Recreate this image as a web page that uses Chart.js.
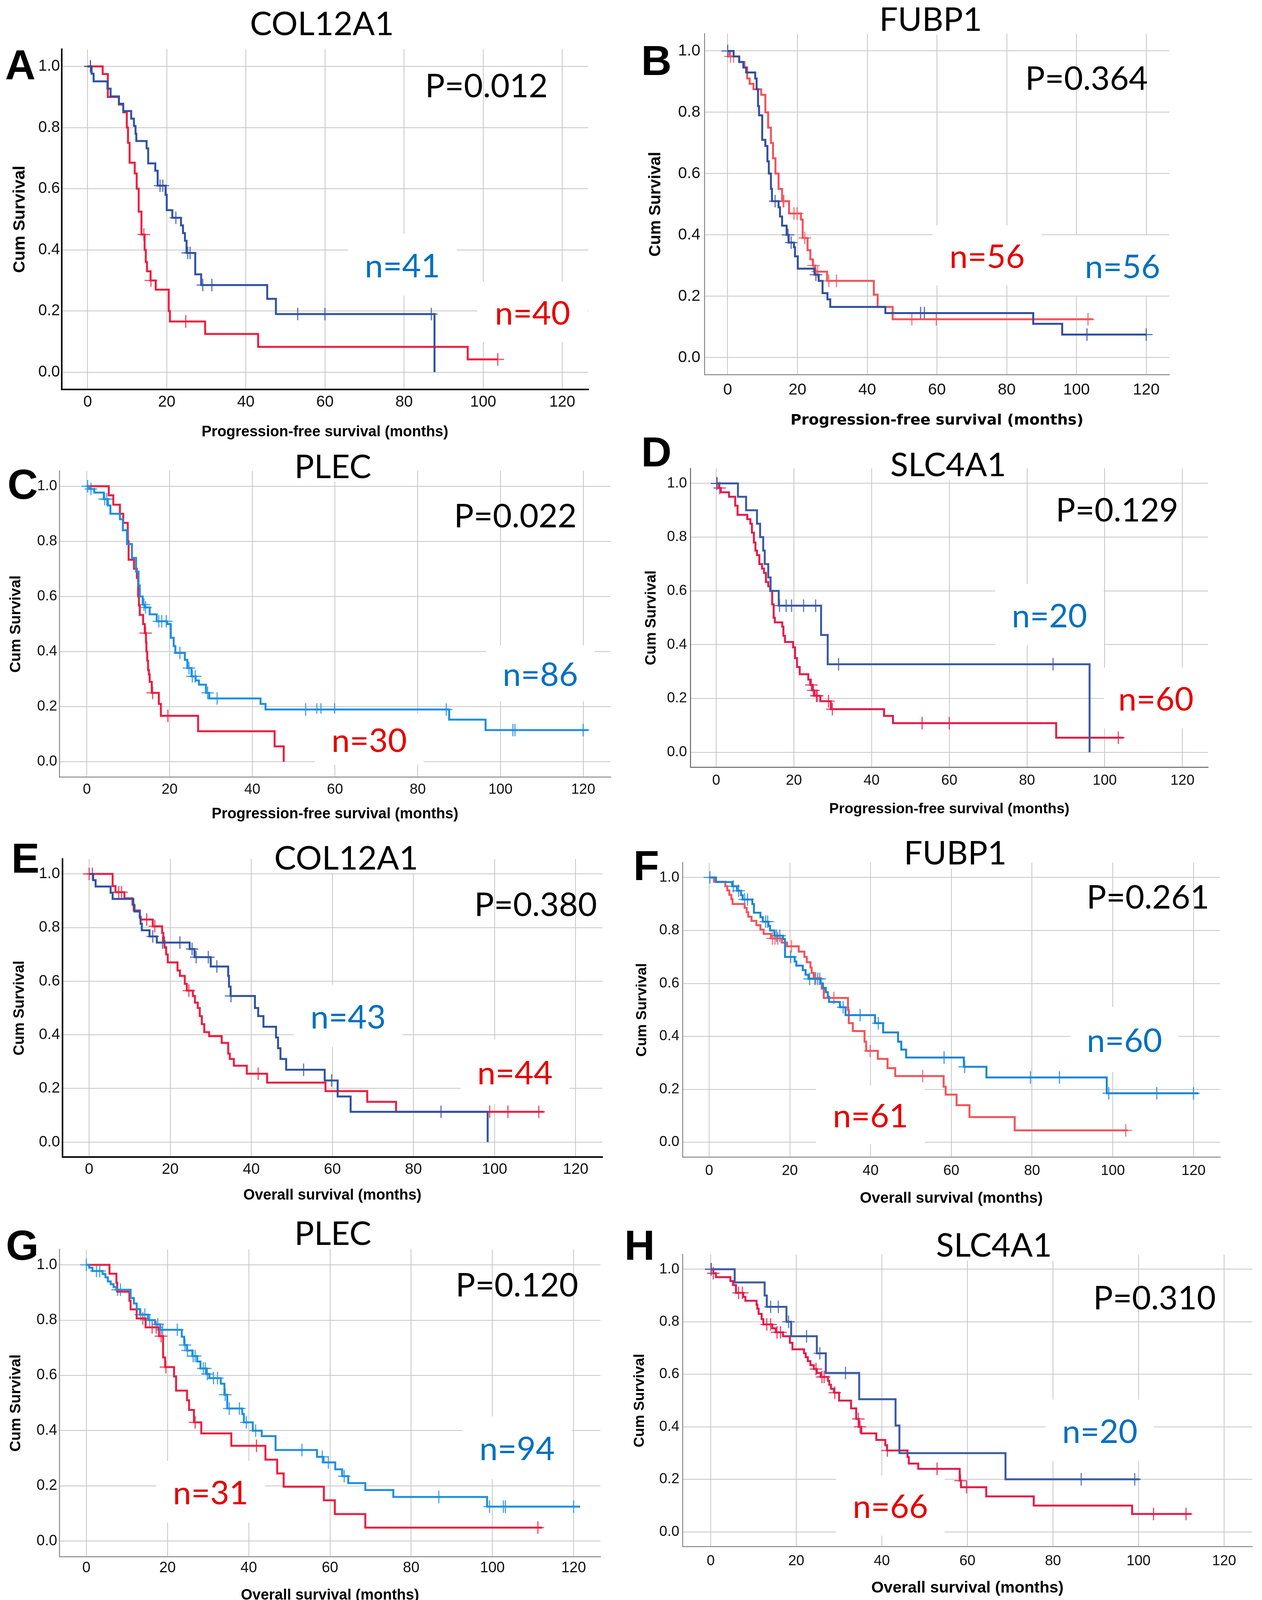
<!DOCTYPE html>
<html>
<head>
<meta charset="utf-8">
<script src="https://cdn.jsdelivr.net/npm/chart.js@4.4.0/dist/chart.umd.min.js"></script>
<style>
  html, body { margin: 0; padding: 0; background: #fff; }
  body { width: 3230px; height: 4130px; position: relative; overflow: hidden; }
  canvas { position: absolute; }
  .txt { position: absolute; white-space: nowrap; line-height: 1; color: #000; }
  .gene { font-family: Lato, 'Open Sans', sans-serif; font-size: 84px; background: #fff; padding: 0 8px;
          transform: translate(-50%, calc(-50% - 2px)); }
  .pval { font-family: Lato, 'Open Sans', sans-serif; font-size: 84px; transform: translate(-50%, calc(-50% - 2px)); }
  .letter { font-family: 'Liberation Sans', Arial, sans-serif; font-weight: bold; font-size: 108px; transform: translate(0, -50%); }
  .nlab { position: absolute; background: #fff; display: flex; align-items: center; justify-content: center;
          font-family: Lato, 'Open Sans', sans-serif; font-size: 84px; line-height: 1; }
</style>
</head>
<body>
<script>
// ---- axis ticks ----
const xTicks = [0, 20, 40, 60, 80, 100, 120];
const yTicks = [0, 0.2, 0.4, 0.6, 0.8, 1.0];
const X_MIN = -6.6, X_MAX = 126.6, Y_MIN = -0.056, Y_MAX = 1.056;

// ---- A: COL12A1, PFS ----
const A_red_t = [0, 3.8, 5.1, 7.9, 9.0, 9.9, 10.2, 10.6, 11.9, 12.4, 12.9, 13.6, 14.4, 14.7, 15.0, 15.9, 17.2, 20.5, 20.8, 29.7, 43.1, 96.1, 103.7];
const A_red_s = [1.0, 0.975, 0.90, 0.875, 0.85, 0.80, 0.75, 0.685, 0.65, 0.60, 0.525, 0.45, 0.40, 0.36, 0.33, 0.30, 0.27, 0.20, 0.166, 0.125, 0.083, 0.042, 0.042];
const A_red_c = [0.7, 14.2, 16.0, 24.8, 103.7];
const A_blue_t = [0, 1.0, 1.5, 5.0, 5.8, 7.9, 9.0, 11.0, 11.7, 12.1, 12.3, 14.9, 15.3, 17.1, 17.7, 19.7, 20.0, 21.4, 23.6, 24.1, 24.6, 25.0, 27.2, 28.7, 45.4, 47.6, 87.7];
const A_blue_s = [1.0, 0.976, 0.951, 0.927, 0.902, 0.878, 0.854, 0.829, 0.805, 0.78, 0.756, 0.732, 0.683, 0.659, 0.61, 0.58, 0.53, 0.505, 0.48, 0.455, 0.43, 0.39, 0.32, 0.285, 0.24, 0.19, 0.0];
const A_blue_c = [0.7, 18.3, 19.0, 22.3, 25.3, 25.9, 29.1, 31.4, 53.1, 60.0, 86.9];

// ---- B: FUBP1, PFS ----
const B_red_t = [0, 0.5, 3.3, 4.8, 5.6, 6.3, 7.4, 9.6, 10.8, 11.6, 12.4, 13.0, 13.7, 14.6, 15.6, 17.6, 21.0, 21.5, 22.9, 23.7, 24.4, 25.1, 28.5, 41.9, 43.0, 47.3, 104.7];
const B_red_s = [1.0, 0.982, 0.964, 0.946, 0.91, 0.893, 0.875, 0.857, 0.80, 0.75, 0.70, 0.65, 0.60, 0.55, 0.51, 0.47, 0.45, 0.39, 0.35, 0.32, 0.30, 0.28, 0.25, 0.205, 0.165, 0.125, 0.125];
const B_red_c = [0.8, 1.7, 15.9, 16.1, 19.0, 19.9, 22.1, 24.6, 25.8, 29.0, 31.2, 52.8, 59.8, 103.3];
const B_blue_t = [0, 1.7, 3.3, 4.5, 5.3, 7.9, 8.3, 8.7, 9.0, 9.9, 10.8, 11.4, 11.8, 12.4, 12.7, 14.6, 15.0, 15.6, 16.9, 17.5, 19.0, 19.3, 20.1, 24.9, 26.1, 27.2, 28.6, 29.4, 45.2, 87.6, 95.9, 120.0];
const B_blue_s = [1.0, 0.982, 0.964, 0.946, 0.93, 0.91, 0.875, 0.82, 0.79, 0.71, 0.69, 0.64, 0.60, 0.55, 0.51, 0.49, 0.46, 0.43, 0.40, 0.375, 0.36, 0.33, 0.29, 0.27, 0.25, 0.21, 0.19, 0.165, 0.145, 0.11, 0.075, 0.075];
const B_blue_c = [0, 13.6, 17.3, 18.2, 25.3, 55.3, 56.4, 103.0, 120.0];

// ---- C: PLEC, PFS ----
const C_red_t = [0, 5.3, 6.4, 8.0, 8.8, 9.9, 10.1, 11.4, 12.1, 12.4, 12.6, 12.8, 13.6, 14.0, 14.3, 14.4, 14.6, 14.8, 15.0, 15.2, 15.7, 17.4, 17.9, 26.9, 45.4, 47.6];
const C_red_s = [1.0, 0.967, 0.933, 0.90, 0.867, 0.80, 0.733, 0.70, 0.667, 0.60, 0.567, 0.533, 0.50, 0.467, 0.433, 0.40, 0.367, 0.333, 0.317, 0.29, 0.25, 0.21, 0.167, 0.111, 0.056, 0.0];
const C_red_c = [14.2, 15.9, 19.6];
const C_blue_t = [0, 0.6, 1.8, 4.1, 5.1, 5.7, 8.0, 8.7, 9.7, 10.9, 11.9, 12.5, 12.8, 13.5, 14.0, 15.2, 16.9, 19.4, 20.3, 21.0, 21.4, 23.7, 24.3, 25.3, 26.3, 27.1, 28.8, 29.6, 42.0, 43.2, 87.6, 96.4, 121.2];
const C_blue_s = [1.0, 0.99, 0.977, 0.953, 0.93, 0.90, 0.88, 0.84, 0.79, 0.74, 0.69, 0.64, 0.60, 0.57, 0.56, 0.535, 0.51, 0.50, 0.45, 0.42, 0.395, 0.37, 0.34, 0.31, 0.295, 0.28, 0.25, 0.23, 0.21, 0.19, 0.153, 0.115, 0.115];
const C_blue_c = [0.2, 1.0, 4.3, 4.8, 13.8, 14.2, 17.4, 18.1, 19.2, 22.5, 24.7, 25.5, 26.2, 29.2, 31.5, 52.9, 55.6, 56.6, 59.9, 86.9, 103.0, 103.5, 120.0];

// ---- D: SLC4A1, PFS ----
const D_red_t = [0, 0.7, 1.2, 3.3, 4.9, 5.5, 8.0, 8.8, 9.2, 9.7, 10.1, 10.5, 11.1, 11.8, 12.3, 12.8, 13.4, 13.9, 14.4, 14.8, 15.1, 17.0, 17.3, 17.7, 19.8, 20.3, 20.8, 21.5, 23.7, 24.2, 24.8, 25.3, 26.8, 29.5, 43.2, 45.5, 87.5, 104.8];
const D_red_s = [1.0, 0.983, 0.967, 0.95, 0.917, 0.883, 0.867, 0.85, 0.817, 0.78, 0.75, 0.733, 0.70, 0.683, 0.667, 0.633, 0.617, 0.60, 0.55, 0.50, 0.483, 0.467, 0.433, 0.41, 0.39, 0.35, 0.317, 0.29, 0.27, 0.25, 0.23, 0.21, 0.19, 0.16, 0.135, 0.108, 0.054, 0.054];
const D_red_c = [0.2, 0.9, 24.5, 25.0, 25.8, 26.0, 28.9, 29.9, 53.0, 60.0, 103.5];
const D_blue_t = [0, 5.6, 7.7, 10.5, 11.3, 12.1, 12.5, 13.4, 14.0, 16.1, 27.0, 28.7, 96.1];
const D_blue_s = [1.0, 0.95, 0.90, 0.85, 0.80, 0.75, 0.70, 0.65, 0.60, 0.545, 0.436, 0.327, 0.0];
const D_blue_c = [0.2, 16.3, 18.0, 19.4, 22.5, 25.6, 31.5, 86.7];

// ---- E: COL12A1, OS ----
const E_red_t = [0, 5.8, 6.5, 8.7, 10.7, 11.0, 12.5, 12.7, 15.7, 18.0, 18.3, 18.6, 19.0, 19.4, 21.8, 22.4, 23.6, 24.1, 25.6, 26.1, 26.8, 27.3, 27.8, 28.4, 29.6, 32.7, 34.3, 34.7, 35.7, 38.9, 43.9, 58.3, 68.6, 75.7, 112.1];
const E_red_s = [1.0, 0.955, 0.932, 0.909, 0.886, 0.864, 0.841, 0.83, 0.805, 0.78, 0.75, 0.727, 0.70, 0.67, 0.64, 0.62, 0.59, 0.565, 0.545, 0.52, 0.50, 0.47, 0.44, 0.41, 0.395, 0.37, 0.33, 0.31, 0.285, 0.255, 0.222, 0.19, 0.15, 0.113, 0.113];
const E_red_c = [0, 0.8, 7.3, 8.0, 14.2, 16.2, 24.6, 41.7, 98.8, 103.3, 110.9];
const E_blue_t = [0, 1.0, 1.6, 5.3, 5.8, 10.9, 11.2, 12.5, 12.7, 13.0, 14.9, 16.7, 24.8, 26.0, 30.0, 34.3, 34.5, 34.9, 40.9, 41.7, 43.0, 46.1, 46.6, 47.2, 48.6, 58.1, 61.3, 64.5, 98.3];
const E_blue_s = [1.0, 0.977, 0.953, 0.93, 0.907, 0.884, 0.86, 0.837, 0.814, 0.79, 0.767, 0.744, 0.72, 0.69, 0.655, 0.62, 0.58, 0.545, 0.50, 0.47, 0.43, 0.39, 0.35, 0.31, 0.27, 0.23, 0.17, 0.113, 0.0];
const E_blue_c = [15.7, 18.1, 18.6, 22.4, 25.4, 26.4, 29.4, 31.5, 35.0, 52.9, 59.8, 86.8];

// ---- F: FUBP1, OS ----
const F_red_t = [0, 1.2, 4.0, 4.5, 5.0, 5.5, 5.8, 8.8, 9.3, 9.7, 10.5, 11.7, 12.7, 13.5, 15.3, 18.0, 19.3, 22.2, 23.6, 24.2, 25.1, 25.4, 25.9, 27.6, 27.9, 28.4, 34.4, 34.6, 35.6, 38.5, 38.9, 41.8, 44.2, 46.1, 58.1, 58.6, 61.3, 64.5, 75.7, 103.7];
const F_red_s = [1.0, 0.984, 0.967, 0.951, 0.934, 0.918, 0.90, 0.885, 0.869, 0.852, 0.836, 0.82, 0.803, 0.787, 0.77, 0.754, 0.74, 0.72, 0.70, 0.68, 0.66, 0.64, 0.62, 0.60, 0.58, 0.545, 0.50, 0.45, 0.42, 0.38, 0.345, 0.315, 0.28, 0.25, 0.21, 0.18, 0.14, 0.095, 0.045, 0.045];
const F_red_c = [15.7, 16.3, 17.0, 20.4, 26.4, 30.9, 39.9, 52.9, 103.2];
const F_blue_t = [0, 1.7, 5.7, 6.9, 7.9, 8.3, 10.7, 11.1, 12.7, 13.3, 14.7, 15.1, 16.2, 18.3, 18.8, 21.2, 21.6, 23.2, 23.9, 24.6, 27.6, 28.2, 28.9, 29.4, 29.7, 32.4, 33.8, 41.1, 43.1, 46.8, 47.6, 48.8, 63.1, 68.7, 98.5, 121.2];
const F_blue_s = [1.0, 0.983, 0.967, 0.95, 0.933, 0.917, 0.90, 0.867, 0.85, 0.833, 0.817, 0.80, 0.78, 0.767, 0.70, 0.683, 0.667, 0.65, 0.633, 0.617, 0.60, 0.583, 0.567, 0.55, 0.53, 0.51, 0.48, 0.45, 0.415, 0.38, 0.35, 0.32, 0.285, 0.245, 0.185, 0.185];
const F_blue_c = [0.2, 6.0, 7.3, 8.8, 9.5, 14.0, 14.5, 16.7, 17.5, 20.2, 24.9, 26.2, 26.9, 27.4, 33.2, 37.4, 41.9, 58.2, 63.3, 79.6, 86.8, 99.0, 110.9, 120.0];

// ---- G: PLEC, OS ----
const G_red_t = [0, 5.7, 7.4, 7.6, 10.6, 10.9, 12.4, 14.6, 17.9, 18.9, 19.4, 21.6, 22.1, 24.8, 25.3, 26.5, 28.3, 35.7, 44.1, 47.0, 48.6, 58.5, 61.2, 68.7, 112.2];
const G_red_s = [1.0, 0.968, 0.935, 0.903, 0.87, 0.839, 0.806, 0.774, 0.742, 0.665, 0.63, 0.596, 0.545, 0.51, 0.475, 0.43, 0.39, 0.345, 0.295, 0.245, 0.197, 0.148, 0.098, 0.049, 0.049];
const G_red_c = [13.9, 16.2, 17.2, 18.4, 19.6, 26.8, 41.9, 111.2];
const G_blue_t = [0, 0.7, 1.5, 4.0, 4.7, 5.3, 6.0, 6.7, 7.4, 10.9, 11.7, 12.4, 13.2, 15.2, 16.9, 18.2, 23.5, 24.1, 24.8, 26.1, 27.3, 28.1, 29.6, 30.3, 33.1, 34.0, 34.7, 38.4, 38.8, 41.0, 43.2, 46.6, 56.8, 58.4, 61.3, 63.0, 64.5, 68.7, 75.6, 98.7, 121.6];
const G_blue_s = [1.0, 0.99, 0.978, 0.967, 0.955, 0.94, 0.93, 0.92, 0.91, 0.88, 0.86, 0.84, 0.82, 0.80, 0.785, 0.765, 0.74, 0.71, 0.69, 0.67, 0.65, 0.625, 0.605, 0.59, 0.57, 0.53, 0.48, 0.46, 0.43, 0.40, 0.38, 0.33, 0.305, 0.285, 0.26, 0.235, 0.21, 0.185, 0.16, 0.125, 0.125];
const G_blue_c = [0, 2.5, 3.3, 7.7, 8.4, 13.4, 14.4, 15.6, 17.6, 18.8, 22.4, 24.3, 24.9, 26.3, 26.8, 28.8, 29.3, 29.8, 31.3, 32.3, 34.2, 35.2, 37.7, 39.4, 41.7, 53.1, 58.1, 59.6, 63.5, 86.8, 99.3, 102.7, 103.2, 120.0];

// ---- H: SLC4A1, OS ----
const H_red_t = [0, 0.6, 1.2, 4.6, 5.2, 5.9, 7.6, 8.1, 10.7, 10.9, 11.2, 11.9, 12.3, 14.4, 15.2, 16.9, 18.5, 19.1, 21.8, 22.2, 22.7, 23.3, 24.1, 24.8, 25.7, 27.4, 27.7, 28.1, 28.8, 30.0, 32.8, 34.0, 34.6, 35.2, 38.7, 40.8, 41.2, 46.0, 46.3, 48.5, 58.2, 58.5, 64.4, 75.5, 98.5, 112.3];
const H_red_s = [1.0, 0.985, 0.97, 0.955, 0.94, 0.91, 0.895, 0.88, 0.865, 0.85, 0.83, 0.81, 0.79, 0.775, 0.76, 0.745, 0.72, 0.695, 0.68, 0.665, 0.65, 0.635, 0.62, 0.605, 0.59, 0.575, 0.56, 0.545, 0.53, 0.50, 0.47, 0.43, 0.40, 0.375, 0.35, 0.33, 0.31, 0.285, 0.26, 0.24, 0.195, 0.17, 0.135, 0.10, 0.068, 0.068];
const H_red_c = [0.1, 0.6, 6.5, 7.4, 13.1, 14.0, 15.5, 16.3, 24.6, 26.0, 26.5, 29.0, 34.5, 34.9, 41.3, 52.9, 58.4, 59.8, 103.5, 111.1];
const H_blue_t = [0, 5.6, 12.6, 13.1, 17.7, 18.8, 24.8, 26.9, 34.7, 43.2, 44.1, 68.9, 100.2];
const H_blue_s = [1.0, 0.95, 0.90, 0.857, 0.80, 0.745, 0.68, 0.605, 0.505, 0.405, 0.30, 0.20, 0.20];
const H_blue_c = [0.1, 14.0, 15.8, 18.2, 22.4, 25.5, 31.5, 86.6, 99.1];

const PFS = 'Progression-free survival (months)';
const OS = 'Overall survival (months)';
const NARROW = "'Liberation Sans Narrow', sans-serif";
const SANS = "'Liberation Sans', Arial, sans-serif";
const N_BLUE = '#0070c0', N_RED = '#e60000';

// layout of the eight panels (page pixels)
const panels = [
  { letter: 'A', gene: 'COL12A1', p: 'P=0.012', xTitle: PFS, box: [157.6, 126.1, 1505.8, 996.7],
    yTitleX: 51, xTitleY: 1110, genePos: [824, 60], letterPos: [13, 166], pPos: [1245, 219],
    tickFamily: NARROW, tickSize: 42, xTickPad: 9, yTickPad: 4, xTitleFamily: SANS, xTitleSize: 38, yTitleSize: 43,
    axisColor: '#000', axisWidth: 4, red: '#ee1d3f', blue: '#2f52a3',
    nRed: ['n=40', 1222, 721, 1504, 876], nBlue: ['n=41', 891, 598, 1169, 757],
    red_t: A_red_t, red_s: A_red_s, red_c: A_red_c, blue_t: A_blue_t, blue_s: A_blue_s, blue_c: A_blue_c },
  { letter: 'B', gene: 'FUBP1', p: 'P=0.364', xTitle: PFS, box: [1803.5, 86.5, 2992.7, 959.2],
    yTitleX: 1678, xTitleY: 1081, genePos: [2382, 49], letterPos: [1641, 155], pPos: [2781, 200],
    tickFamily: SANS, tickSize: 41, xTickPad: 15, yTickPad: 11, xTitleFamily: "'DejaVu Sans', sans-serif", xTitleSize: 38, yTitleSize: 42,
    axisColor: '#8a8a8a', axisWidth: 2.5, red: '#f4525a', blue: '#2f4f9e',
    nRed: ['n=56', 2387, 577, 2666, 731], nBlue: ['n=56', 2733, 602, 3013, 757],
    red_t: B_red_t, red_s: B_red_s, red_c: B_red_c, blue_t: B_blue_t, blue_s: B_blue_s, blue_c: B_blue_c },
  { letter: 'C', gene: 'PLEC', p: 'P=0.022', xTitle: PFS, box: [152.4, 1205.2, 1562.5, 1989.7],
    yTitleX: 41, xTitleY: 2088, genePos: [852, 1194], letterPos: [19, 1240], pPos: [1319, 1320],
    tickFamily: SANS, tickSize: 37, xTickPad: 10, yTickPad: 6, xTitleFamily: SANS, xTitleSize: 38, yTitleSize: 39,
    axisColor: '#8a8a8a', axisWidth: 2.5, red: '#ec1c3e', blue: '#1d8fe1',
    nRed: ['n=30', 806, 1827, 1084, 1958], nBlue: ['n=86', 1244, 1652, 1522, 1795],
    red_t: C_red_t, red_s: C_red_s, red_c: C_red_c, blue_t: C_blue_t, blue_s: C_blue_s, blue_c: C_blue_c },
  { letter: 'D', gene: 'SLC4A1', p: 'P=0.129', xTitle: PFS, box: [1767.4, 1198.9, 3092, 1964.2],
    yTitleX: 1668, xTitleY: 2076, genePos: [2427, 1189], letterPos: [1641, 1157], pPos: [2859, 1305],
    tickFamily: NARROW, tickSize: 39, xTickPad: 12, yTickPad: 9, xTitleFamily: SANS, xTitleSize: 37, yTitleSize: 38,
    axisColor: '#666', axisWidth: 2.5, red: '#e41b4a', blue: '#3b5aa5',
    nRed: ['n=60', 2825, 1709, 3092, 1865], nBlue: ['n=20', 2547, 1495, 2825, 1652],
    red_t: D_red_t, red_s: D_red_s, red_c: D_red_c, blue_t: D_blue_t, blue_s: D_blue_s, blue_c: D_blue_c },
  { letter: 'E', gene: 'COL12A1', p: 'P=0.380', xTitle: OS, box: [159.6, 2198.9, 1541.8, 2962.2],
    yTitleX: 51, xTitleY: 3064, genePos: [886, 2196], letterPos: [29, 2197], pPos: [1371, 2315],
    tickFamily: NARROW, tickSize: 41, xTickPad: 8, yTickPad: 6, xTitleFamily: SANS, xTitleSize: 38, yTitleSize: 38,
    axisColor: '#000', axisWidth: 4, red: '#ee1d3f', blue: '#2f52a3',
    nRed: ['n=44', 1179, 2661, 1457, 2827], nBlue: ['n=43', 752, 2521, 1030, 2680],
    red_t: E_red_t, red_s: E_red_s, red_c: E_red_c, blue_t: E_blue_t, blue_s: E_blue_s, blue_c: E_blue_c },
  { letter: 'F', gene: 'FUBP1', p: 'P=0.261', xTitle: OS, box: [1746.8, 2208.4, 3122.9, 2962.2],
    yTitleX: 1643, xTitleY: 3073, genePos: [2445, 2183], letterPos: [1621, 2216], pPos: [2938, 2296],
    tickFamily: NARROW, tickSize: 39, xTickPad: 13, yTickPad: 8, xTitleFamily: SANS, xTitleSize: 39, yTitleSize: 37.5,
    axisColor: '#8a8a8a', axisWidth: 2.5, red: '#f2545a', blue: '#1a86d6',
    nRed: ['n=61', 2089, 2779, 2367, 2929], nBlue: ['n=60', 2740, 2578, 3016, 2744],
    red_t: F_red_t, red_s: F_red_s, red_c: F_red_c, blue_t: F_blue_t, blue_s: F_blue_s, blue_c: F_blue_c },
  { letter: 'G', gene: 'PLEC', p: 'P=0.120', xTitle: OS, box: [152.4, 3198.5, 1536.7, 3984.9],
    yTitleX: 41, xTitleY: 4088, genePos: [852, 3157], letterPos: [15, 3188], pPos: [1323, 3289],
    tickFamily: SANS, tickSize: 38, xTickPad: 7, yTickPad: 6, xTitleFamily: SANS, xTitleSize: 38, yTitleSize: 39,
    axisColor: '#8a8a8a', axisWidth: 2.5, red: '#ee1d3f', blue: '#1d8fe1',
    nRed: ['n=31', 400, 3740, 678, 3898], nBlue: ['n=94', 1184, 3626, 1463, 3786],
    red_t: G_red_t, red_s: G_red_s, red_c: G_red_c, blue_t: G_blue_t, blue_s: G_blue_s, blue_c: G_blue_c },
  { letter: 'H', gene: 'SLC4A1', p: 'P=0.310', xTitle: OS, box: [1746.8, 3211.7, 3205.3, 3959.2],
    yTitleX: 1637, xTitleY: 4069, genePos: [2544, 3187], letterPos: [1598, 3188], pPos: [2955, 3322],
    tickFamily: SANS, tickSize: 37, xTickPad: 15, yTickPad: 8, xTitleFamily: SANS, xTitleSize: 41, yTitleSize: 37.5,
    axisColor: '#8a8a8a', axisWidth: 2.5, red: '#e41b4a', blue: '#3b5aa5',
    nRed: ['n=66', 2140, 3777, 2418, 3931], nBlue: ['n=20', 2676, 3583, 2954, 3740],
    red_t: H_red_t, red_s: H_red_s, red_c: H_red_c, blue_t: H_blue_t, blue_s: H_blue_s, blue_c: H_blue_c }
];

const PT = 45, PR = 20;
const GRID = '#c6c6c6';

// is a locally installed font really there?
function fontAvailable(name) {
  const ctx = document.createElement('canvas').getContext('2d');
  const probe = '0123456789.';
  ctx.font = '40px monospace';
  const base = ctx.measureText(probe).width;
  ctx.font = `40px '${name}', monospace`;
  return ctx.measureText(probe).width !== base;
}
const HAS_NARROW = fontAvailable('Liberation Sans Narrow');

function steps(t, s) {
  return t.map((v, i) => ({ x: v, y: s[i] }));
}

// value of the step curve at a censoring time
function survAt(t, s, time) {
  let v = s[0];
  for (let i = 0; i < t.length; i++) {
    if (t[i] <= time) v = s[i];
  }
  return v;
}

function marks(c, t, s) {
  return c.map(v => ({ x: v, y: survAt(t, s, v) }));
}

function alpha(hex, a) {
  const n = parseInt(hex.slice(1), 16);
  return `rgba(${n >> 16}, ${(n >> 8) & 255}, ${n & 255}, ${a})`;
}

function addDiv(cls, text, x, y, color) {
  const d = document.createElement('div');
  d.className = 'txt ' + cls;
  d.textContent = text;
  d.style.left = x + 'px';
  d.style.top = y + 'px';
  if (color) d.style.color = color;
  document.body.appendChild(d);
}

function addN(lab, color) {
  const [text, x1, y1, x2, y2] = lab;
  const d = document.createElement('div');
  d.className = 'nlab';
  d.textContent = text;
  d.style.left = x1 + 'px';
  d.style.top = y1 + 'px';
  d.style.width = (x2 - x1) + 'px';
  d.style.height = (y2 - y1) + 'px';
  d.style.color = color;
  document.body.appendChild(d);
}

function buildPanel(p) {
  const [l, t, r, b] = p.box;
  const yLh = p.yTitleSize * 1.2;
  const xLh = p.xTitleSize * 1.2;
  const cl = Math.round(p.yTitleX - yLh / 2);
  const ct = Math.round(t - PT);
  const cr = Math.round(r + PR);
  const cb = Math.round(p.xTitleY - 4 + xLh / 2);

  const cv = document.createElement('canvas');
  cv.width = cr - cl;
  cv.height = cb - ct;
  cv.style.left = cl + 'px';
  cv.style.top = ct + 'px';
  cv.style.width = (cr - cl) + 'px';
  cv.style.height = (cb - ct) + 'px';
  document.body.appendChild(cv);

  const yW = l - cl;
  const xH = cb - b;

  // narrow tick font, or a slightly smaller regular one when the narrow face is missing
  let family = p.tickFamily, size = p.tickSize, xPad = p.xTickPad;
  if (family === NARROW && !HAS_NARROW) {
    family = SANS;
    size = Math.round(p.tickSize * 0.95);
    xPad = p.xTickPad + 0.24 * (p.tickSize - size);
  }
  const tickFont = { family: family, size: size };

  new Chart(cv, {
    type: 'line',
    data: {
      datasets: [
        { data: steps(p.blue_t, p.blue_s), borderColor: p.blue, borderWidth: 5, stepped: 'before',
          pointRadius: 0, fill: false },
        { data: steps(p.red_t, p.red_s), borderColor: p.red, borderWidth: 5, stepped: 'before',
          pointRadius: 0, fill: false },
        { data: marks(p.blue_c, p.blue_t, p.blue_s), showLine: false, pointStyle: 'cross', pointRadius: 16,
          pointBorderWidth: 3, borderColor: alpha(p.blue, 0.8), pointBorderColor: alpha(p.blue, 0.8),
          pointBackgroundColor: 'rgba(0,0,0,0)' },
        { data: marks(p.red_c, p.red_t, p.red_s), showLine: false, pointStyle: 'cross', pointRadius: 16,
          pointBorderWidth: 3, borderColor: alpha(p.red, 0.8), pointBorderColor: alpha(p.red, 0.8),
          pointBackgroundColor: 'rgba(0,0,0,0)' }
      ]
    },
    options: {
      responsive: false,
      animation: false,
      devicePixelRatio: 1,
      events: [],
      layout: { padding: { top: t - ct, right: cr - r, left: 0, bottom: 0 } },
      plugins: { legend: { display: false }, tooltip: { enabled: false } },
      scales: {
        x: {
          type: 'linear', min: X_MIN, max: X_MAX,
          afterBuildTicks: s => { s.ticks = xTicks.map(v => ({ value: v })); },
          afterFit: s => { s.height = xH; },
          ticks: { font: tickFont, color: '#111', padding: xPad, maxRotation: 0, autoSkip: false,
                   callback: v => String(v) },
          grid: { color: GRID, lineWidth: 2, drawTicks: false },
          border: { color: p.axisColor, width: p.axisWidth },
          title: { display: true, text: p.xTitle, color: '#000', padding: { top: 0, bottom: 0 },
                   font: { family: p.xTitleFamily, size: p.xTitleSize, weight: 'bold' } }
        },
        y: {
          type: 'linear', min: Y_MIN, max: Y_MAX,
          afterBuildTicks: s => { s.ticks = yTicks.map(v => ({ value: v })); },
          afterFit: s => { s.width = yW; },
          ticks: { font: tickFont, color: '#111', padding: p.yTickPad, callback: v => v.toFixed(1) },
          grid: { color: GRID, lineWidth: 2, drawTicks: false },
          border: { color: p.axisColor, width: p.axisWidth },
          title: { display: true, text: 'Cum Survival', color: '#000', padding: { top: 0, bottom: 0 },
                   font: { family: SANS, size: p.yTitleSize, weight: 'bold' } }
        }
      }
    }
  });
}

panels.forEach(buildPanel);

// text on top of the charts
panels.forEach(p => {
  addDiv('gene', p.gene, p.genePos[0], p.genePos[1]);
  addDiv('letter', p.letter, p.letterPos[0], p.letterPos[1]);
  addDiv('pval', p.p, p.pPos[0], p.pPos[1]);
  addN(p.nBlue, N_BLUE);
  addN(p.nRed, N_RED);
});
</script>
</body>
</html>
